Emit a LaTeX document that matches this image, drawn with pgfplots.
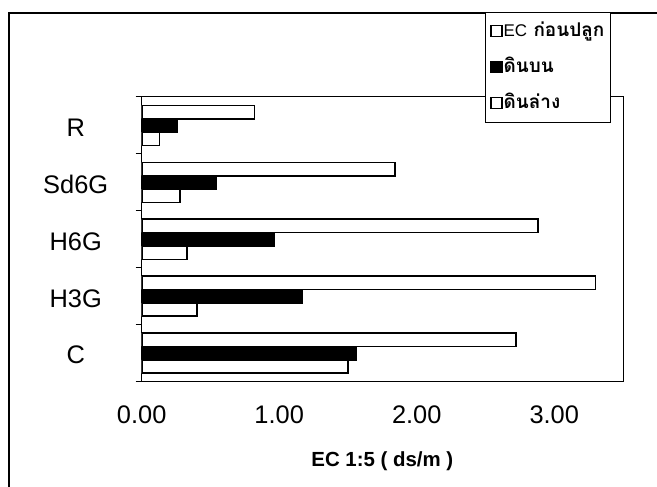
\documentclass[border=0pt]{standalone}
\usepackage{pgfplots}
\pgfplotsset{compat=1.18}
\usepackage{fontspec}
\setmainfont{Liberation Sans}
\newfontfamily\thaifont[Script=Thai]{Loma}
\begin{document}
\begin{tikzpicture}
\path[use as bounding box] (0,0) rectangle (657bp,487bp);
\draw[line width=1.2bp] (9bp,0bp) -- (9bp,474bp) -- (657bp,474bp);
\begin{axis}[
  at={(141.7bp,105.3bp)}, anchor=south west,
  scale only axis, width=481.3bp, height=284.7bp,
  xmin=0, xmax=3.5, ymin=-0.5, ymax=4.5,
  xbar, bar width=13.3bp,
  axis line style={line width=1bp, black},
  xtick={0,1,2,3}, xticklabels={0.00,1.00,2.00,3.00},
  ytick={0,1,2,3,4}, yticklabels={C,H3G,H6G,Sd6G,R},
  minor ytick={-0.5,0.5,1.5,2.5,3.5,4.5},
  ytick pos=left, xtick pos=bottom,
  tick align=outside, major tick length=0pt, minor tick length=6bp,
  minor tick style={line width=1bp, black},
  tick label style={font=\fontsize{25.5}{25.5}\selectfont},
  xticklabel style={yshift=-21bp},
  yticklabel style={anchor=center, xshift=-66bp, yshift=-2bp},
  xlabel={EC 1:5 ( ds/m )},
  xlabel style={at={(axis description cs:0.5,-0.2996)}, anchor=base, font=\fontsize{20.5}{20.5}\selectfont\bfseries},
  legend style={at={(0.7133,1.2986)}, anchor=north west, draw=black, line width=0.8bp,
    fill=white, inner xsep=5bp, inner ysep=9bp, row sep=16bp,
    nodes={inner sep=1bp, text height=14bp, text depth=4bp},
    font=\fontsize{19}{19}\selectfont\thaifont\bfseries},
  legend cell align=left,
  legend image code/.code={\draw[#1, line width=1.2bp] (0bp,-5.5bp) rectangle (11bp,5.5bp);},
]
\addplot[draw=black, fill=white, line width=1.7bp, bar shift=13.4bp]
  coordinates {(2.72,0) (3.30,1) (2.88,2) (1.84,3) (0.82,4)};
\addlegendentry{{\normalfont\mdseries\fontsize{17}{17}\selectfont EC} ก่อนปลูก}
\addplot[draw=black, fill=black, line width=1.7bp, bar shift=0bp]
  coordinates {(1.56,0) (1.17,1) (0.96,2) (0.54,3) (0.26,4)};
\addlegendentry{ดินบน}
\addplot[draw=black, fill=white, line width=1.7bp, bar shift=-13.4bp]
  coordinates {(1.50,0) (0.40,1) (0.33,2) (0.28,3) (0.13,4)};
\addlegendentry{ดินล่าง}
\end{axis}
\end{tikzpicture}
\end{document}
